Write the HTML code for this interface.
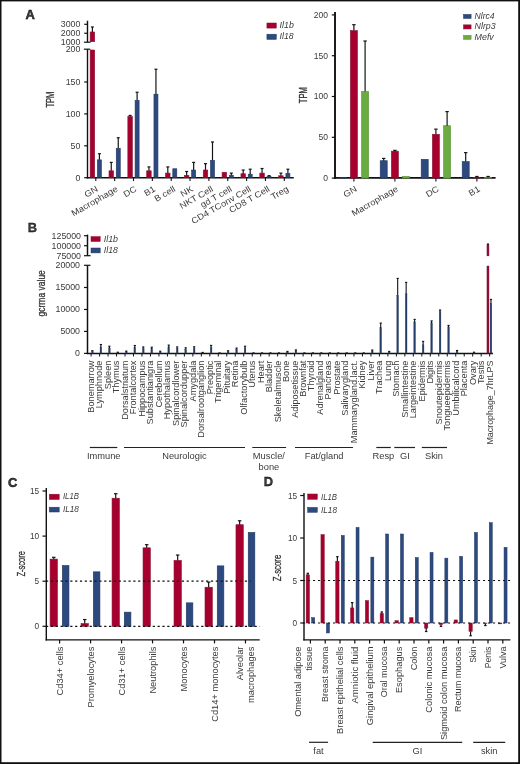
<!DOCTYPE html>
<html><head><meta charset="utf-8"><style>
html,body{margin:0;padding:0;background:#fff;}
svg{display:block;will-change:transform;}
text{font-family:"Liberation Sans",sans-serif;fill:#3a3a3a;}
</style></head><body>
<svg width="520" height="764" viewBox="0 0 520 764">
<rect x="0" y="0" width="520" height="764" fill="#fff"/>
<text x="25.6" y="18.7" font-size="12.9" font-weight="bold" fill="#000" stroke="#000" stroke-width="0.45">A</text>
<text x="27.7" y="232.0" font-size="12.9" font-weight="bold" fill="#000" stroke="#000" stroke-width="0.3">B</text>
<text x="8.0" y="486.5" font-size="12.9" font-weight="bold" fill="#000" stroke="#000" stroke-width="0.45">C</text>
<text x="263.8" y="486.3" font-size="12.9" font-weight="bold" fill="#000" stroke="#000" stroke-width="0.35">D</text>
<line x1="87.50" y1="49.20" x2="87.50" y2="178.40" stroke="#111" stroke-width="1.4" />
<line x1="87.50" y1="20.70" x2="87.50" y2="42.20" stroke="#111" stroke-width="1.4" />
<line x1="83.90" y1="42.20" x2="90.50" y2="42.20" stroke="#111" stroke-width="1.2" />
<line x1="83.90" y1="49.20" x2="90.30" y2="49.20" stroke="#111" stroke-width="1.2" />
<line x1="84.20" y1="177.70" x2="87.50" y2="177.70" stroke="#111" stroke-width="1.2" />
<line x1="84.20" y1="145.80" x2="87.50" y2="145.80" stroke="#111" stroke-width="1.2" />
<line x1="84.20" y1="113.90" x2="87.50" y2="113.90" stroke="#111" stroke-width="1.2" />
<line x1="84.20" y1="82.00" x2="87.50" y2="82.00" stroke="#111" stroke-width="1.2" />
<line x1="84.20" y1="33.25" x2="87.50" y2="33.25" stroke="#111" stroke-width="1.2" />
<line x1="84.20" y1="24.30" x2="87.50" y2="24.30" stroke="#111" stroke-width="1.2" />
<text x="80.40" y="180.57" font-size="8.2" text-anchor="end" textLength="4.90" lengthAdjust="spacingAndGlyphs">0</text>
<text x="80.40" y="148.67" font-size="8.2" text-anchor="end" textLength="9.80" lengthAdjust="spacingAndGlyphs">50</text>
<text x="80.40" y="116.77" font-size="8.2" text-anchor="end" textLength="14.70" lengthAdjust="spacingAndGlyphs">100</text>
<text x="80.40" y="84.87" font-size="8.2" text-anchor="end" textLength="14.70" lengthAdjust="spacingAndGlyphs">150</text>
<text x="80.40" y="52.07" font-size="8.2" text-anchor="end" textLength="14.70" lengthAdjust="spacingAndGlyphs">200</text>
<text x="80.40" y="45.07" font-size="8.2" text-anchor="end" textLength="19.60" lengthAdjust="spacingAndGlyphs">1000</text>
<text x="80.40" y="36.12" font-size="8.2" text-anchor="end" textLength="19.60" lengthAdjust="spacingAndGlyphs">2000</text>
<text x="80.40" y="27.17" font-size="8.2" text-anchor="end" textLength="19.60" lengthAdjust="spacingAndGlyphs">3000</text>
<text transform="translate(54.00,99.65) rotate(-90)" font-size="10.6" stroke="#222" stroke-width="0.3" text-anchor="middle" textLength="15.90" lengthAdjust="spacingAndGlyphs" fill="#222">TPM</text>
<line x1="86.80" y1="177.80" x2="293.80" y2="177.80" stroke="#111" stroke-width="1.6" />
<line x1="95.80" y1="177.70" x2="95.80" y2="181.00" stroke="#111" stroke-width="1.1" />
<rect x="90.15" y="50.00" width="4.50" height="127.70" fill="#a8002e" stroke="#85112f" stroke-width="0.6"/>
<rect x="90.15" y="32.00" width="4.50" height="9.70" fill="#a8002e" stroke="#85112f" stroke-width="0.6"/>
<line x1="92.40" y1="32.00" x2="92.40" y2="26.99" stroke="#151515" stroke-width="1.2" />
<line x1="90.90" y1="26.99" x2="93.90" y2="26.99" stroke="#151515" stroke-width="1.2" />
<rect x="97.40" y="159.84" width="4.00" height="17.86" fill="#2c4a80" stroke="#1f365f" stroke-width="0.6"/>
<line x1="99.40" y1="159.84" x2="99.40" y2="153.71" stroke="#151515" stroke-width="1.2" />
<line x1="97.90" y1="153.71" x2="100.90" y2="153.71" stroke="#151515" stroke-width="1.2" />
<text transform="translate(98.60,190.70) rotate(-30)" font-size="8.7" text-anchor="end" textLength="13.94" lengthAdjust="spacingAndGlyphs" fill="#484848">GN</text>
<line x1="114.65" y1="177.70" x2="114.65" y2="181.00" stroke="#111" stroke-width="1.1" />
<rect x="109.00" y="170.81" width="4.50" height="6.89" fill="#a8002e" stroke="#85112f" stroke-width="0.6"/>
<line x1="111.25" y1="170.81" x2="111.25" y2="162.39" stroke="#151515" stroke-width="1.2" />
<line x1="109.75" y1="162.39" x2="112.75" y2="162.39" stroke="#151515" stroke-width="1.2" />
<rect x="116.25" y="148.35" width="4.00" height="29.35" fill="#2c4a80" stroke="#1f365f" stroke-width="0.6"/>
<line x1="118.25" y1="148.35" x2="118.25" y2="137.76" stroke="#151515" stroke-width="1.2" />
<line x1="116.75" y1="137.76" x2="119.75" y2="137.76" stroke="#151515" stroke-width="1.2" />
<text transform="translate(118.35,190.70) rotate(-30)" font-size="8.7" text-anchor="end" textLength="51.67" lengthAdjust="spacingAndGlyphs" fill="#484848">Macrophage</text>
<line x1="133.50" y1="177.70" x2="133.50" y2="181.00" stroke="#111" stroke-width="1.1" />
<rect x="127.85" y="116.52" width="4.50" height="61.18" fill="#a8002e" stroke="#85112f" stroke-width="0.6"/>
<line x1="130.10" y1="116.52" x2="130.10" y2="115.43" stroke="#151515" stroke-width="1.2" />
<line x1="128.60" y1="115.43" x2="131.60" y2="115.43" stroke="#151515" stroke-width="1.2" />
<rect x="135.10" y="100.37" width="4.00" height="77.33" fill="#2c4a80" stroke="#1f365f" stroke-width="0.6"/>
<line x1="137.10" y1="100.37" x2="137.10" y2="92.27" stroke="#151515" stroke-width="1.2" />
<line x1="135.60" y1="92.27" x2="138.60" y2="92.27" stroke="#151515" stroke-width="1.2" />
<text transform="translate(137.20,190.70) rotate(-30)" font-size="8.7" text-anchor="end" textLength="13.43" lengthAdjust="spacingAndGlyphs" fill="#484848">DC</text>
<line x1="152.35" y1="177.70" x2="152.35" y2="181.00" stroke="#111" stroke-width="1.1" />
<rect x="146.70" y="170.81" width="4.50" height="6.89" fill="#a8002e" stroke="#85112f" stroke-width="0.6"/>
<line x1="148.95" y1="170.81" x2="148.95" y2="166.92" stroke="#151515" stroke-width="1.2" />
<line x1="147.45" y1="166.92" x2="150.45" y2="166.92" stroke="#151515" stroke-width="1.2" />
<rect x="153.95" y="94.19" width="4.00" height="83.51" fill="#2c4a80" stroke="#1f365f" stroke-width="0.6"/>
<line x1="155.95" y1="94.19" x2="155.95" y2="69.24" stroke="#151515" stroke-width="1.2" />
<line x1="154.45" y1="69.24" x2="157.45" y2="69.24" stroke="#151515" stroke-width="1.2" />
<text transform="translate(156.05,190.70) rotate(-30)" font-size="8.7" text-anchor="end" textLength="11.37" lengthAdjust="spacingAndGlyphs" fill="#484848">B1</text>
<line x1="171.20" y1="177.70" x2="171.20" y2="181.00" stroke="#111" stroke-width="1.1" />
<rect x="165.55" y="173.11" width="4.50" height="4.59" fill="#a8002e" stroke="#85112f" stroke-width="0.6"/>
<line x1="167.80" y1="173.11" x2="167.80" y2="166.92" stroke="#151515" stroke-width="1.2" />
<line x1="166.30" y1="166.92" x2="169.30" y2="166.92" stroke="#151515" stroke-width="1.2" />
<rect x="172.80" y="168.77" width="4.00" height="8.93" fill="#2c4a80" stroke="#1f365f" stroke-width="0.6"/>
<text transform="translate(176.10,190.70) rotate(-30)" font-size="8.7" text-anchor="end" textLength="22.73" lengthAdjust="spacingAndGlyphs" fill="#484848">B cell</text>
<line x1="190.05" y1="177.70" x2="190.05" y2="181.00" stroke="#111" stroke-width="1.1" />
<rect x="184.40" y="175.40" width="4.50" height="2.30" fill="#a8002e" stroke="#85112f" stroke-width="0.6"/>
<line x1="186.65" y1="175.40" x2="186.65" y2="171.51" stroke="#151515" stroke-width="1.2" />
<line x1="185.15" y1="171.51" x2="188.15" y2="171.51" stroke="#151515" stroke-width="1.2" />
<rect x="191.65" y="170.04" width="4.00" height="7.66" fill="#2c4a80" stroke="#1f365f" stroke-width="0.6"/>
<line x1="193.65" y1="170.04" x2="193.65" y2="162.39" stroke="#151515" stroke-width="1.2" />
<line x1="192.15" y1="162.39" x2="195.15" y2="162.39" stroke="#151515" stroke-width="1.2" />
<text transform="translate(193.75,190.70) rotate(-30)" font-size="8.7" text-anchor="end" textLength="12.91" lengthAdjust="spacingAndGlyphs" fill="#484848">NK</text>
<line x1="208.90" y1="177.70" x2="208.90" y2="181.00" stroke="#111" stroke-width="1.1" />
<rect x="203.25" y="170.04" width="4.50" height="7.66" fill="#a8002e" stroke="#85112f" stroke-width="0.6"/>
<line x1="205.50" y1="170.04" x2="205.50" y2="163.66" stroke="#151515" stroke-width="1.2" />
<line x1="204.00" y1="163.66" x2="207.00" y2="163.66" stroke="#151515" stroke-width="1.2" />
<rect x="210.50" y="160.41" width="4.00" height="17.29" fill="#2c4a80" stroke="#1f365f" stroke-width="0.6"/>
<line x1="212.50" y1="160.41" x2="212.50" y2="141.97" stroke="#151515" stroke-width="1.2" />
<line x1="211.00" y1="141.97" x2="214.00" y2="141.97" stroke="#151515" stroke-width="1.2" />
<text transform="translate(213.80,190.70) rotate(-30)" font-size="8.7" text-anchor="end" textLength="37.02" lengthAdjust="spacingAndGlyphs" fill="#484848">NKT Cell</text>
<line x1="227.75" y1="177.70" x2="227.75" y2="181.00" stroke="#111" stroke-width="1.1" />
<rect x="222.10" y="172.28" width="4.50" height="5.42" fill="#a8002e" stroke="#85112f" stroke-width="0.6"/>
<rect x="229.35" y="175.21" width="4.00" height="2.49" fill="#2c4a80" stroke="#1f365f" stroke-width="0.6"/>
<line x1="231.35" y1="175.21" x2="231.35" y2="173.11" stroke="#151515" stroke-width="1.2" />
<line x1="229.85" y1="173.11" x2="232.85" y2="173.11" stroke="#151515" stroke-width="1.2" />
<text transform="translate(232.65,190.70) rotate(-30)" font-size="8.7" text-anchor="end" textLength="34.79" lengthAdjust="spacingAndGlyphs" fill="#484848">gd T cell</text>
<line x1="246.60" y1="177.70" x2="246.60" y2="181.00" stroke="#111" stroke-width="1.1" />
<rect x="240.95" y="173.74" width="4.50" height="3.96" fill="#a8002e" stroke="#85112f" stroke-width="0.6"/>
<line x1="243.20" y1="173.74" x2="243.20" y2="170.04" stroke="#151515" stroke-width="1.2" />
<line x1="241.70" y1="170.04" x2="244.70" y2="170.04" stroke="#151515" stroke-width="1.2" />
<rect x="248.20" y="174.19" width="4.00" height="3.51" fill="#2c4a80" stroke="#1f365f" stroke-width="0.6"/>
<line x1="250.20" y1="174.19" x2="250.20" y2="169.21" stroke="#151515" stroke-width="1.2" />
<line x1="248.70" y1="169.21" x2="251.70" y2="169.21" stroke="#151515" stroke-width="1.2" />
<text transform="translate(251.50,190.70) rotate(-30)" font-size="8.7" text-anchor="end" textLength="66.98" lengthAdjust="spacingAndGlyphs" fill="#484848">CD4 TConv Cell</text>
<line x1="265.45" y1="177.70" x2="265.45" y2="181.00" stroke="#111" stroke-width="1.1" />
<rect x="259.80" y="173.11" width="4.50" height="4.59" fill="#a8002e" stroke="#85112f" stroke-width="0.6"/>
<line x1="262.05" y1="173.11" x2="262.05" y2="168.51" stroke="#151515" stroke-width="1.2" />
<line x1="260.55" y1="168.51" x2="263.55" y2="168.51" stroke="#151515" stroke-width="1.2" />
<rect x="267.05" y="176.42" width="4.00" height="1.28" fill="#2c4a80" stroke="#1f365f" stroke-width="0.6"/>
<line x1="269.05" y1="176.42" x2="269.05" y2="175.66" stroke="#151515" stroke-width="1.2" />
<line x1="267.55" y1="175.66" x2="270.55" y2="175.66" stroke="#151515" stroke-width="1.2" />
<text transform="translate(270.35,190.70) rotate(-30)" font-size="8.7" text-anchor="end" textLength="45.12" lengthAdjust="spacingAndGlyphs" fill="#484848">CD8 T Cell</text>
<line x1="284.30" y1="177.70" x2="284.30" y2="181.00" stroke="#111" stroke-width="1.1" />
<rect x="278.65" y="175.79" width="4.50" height="1.91" fill="#a8002e" stroke="#85112f" stroke-width="0.6"/>
<line x1="280.90" y1="175.79" x2="280.90" y2="173.11" stroke="#151515" stroke-width="1.2" />
<line x1="279.40" y1="173.11" x2="282.40" y2="173.11" stroke="#151515" stroke-width="1.2" />
<rect x="285.90" y="173.49" width="4.00" height="4.21" fill="#2c4a80" stroke="#1f365f" stroke-width="0.6"/>
<line x1="287.90" y1="173.49" x2="287.90" y2="169.21" stroke="#151515" stroke-width="1.2" />
<line x1="286.40" y1="169.21" x2="289.40" y2="169.21" stroke="#151515" stroke-width="1.2" />
<text transform="translate(289.20,190.70) rotate(-30)" font-size="8.7" text-anchor="end" textLength="18.77" lengthAdjust="spacingAndGlyphs" fill="#484848">Treg</text>
<rect x="266.9" y="23" width="9.4" height="5.1" fill="#a8002e" stroke="#85112f" stroke-width="0.5"/>
<rect x="266.9" y="34.2" width="9.4" height="5.2" fill="#2c4a80" stroke="#1f365f" stroke-width="0.5"/>
<text x="279.60" y="28.20" font-size="8.6" font-style="italic" textLength="14.20" lengthAdjust="spacingAndGlyphs">Il1b</text>
<text x="279.60" y="39.40" font-size="8.6" font-style="italic" textLength="14.00" lengthAdjust="spacingAndGlyphs">Il18</text>
<line x1="335.00" y1="12.00" x2="335.00" y2="178.70" stroke="#111" stroke-width="1.9" />
<line x1="331.80" y1="178.10" x2="335.00" y2="178.10" stroke="#111" stroke-width="1.2" />
<text x="328.00" y="180.97" font-size="8.2" text-anchor="end" textLength="4.75" lengthAdjust="spacingAndGlyphs">0</text>
<line x1="331.80" y1="137.30" x2="335.00" y2="137.30" stroke="#111" stroke-width="1.2" />
<text x="328.00" y="140.17" font-size="8.2" text-anchor="end" textLength="9.50" lengthAdjust="spacingAndGlyphs">50</text>
<line x1="331.80" y1="96.50" x2="335.00" y2="96.50" stroke="#111" stroke-width="1.2" />
<text x="328.00" y="99.37" font-size="8.2" text-anchor="end" textLength="14.25" lengthAdjust="spacingAndGlyphs">100</text>
<line x1="331.80" y1="55.70" x2="335.00" y2="55.70" stroke="#111" stroke-width="1.2" />
<text x="328.00" y="58.57" font-size="8.2" text-anchor="end" textLength="14.25" lengthAdjust="spacingAndGlyphs">150</text>
<line x1="331.80" y1="14.90" x2="335.00" y2="14.90" stroke="#111" stroke-width="1.2" />
<text x="328.00" y="17.77" font-size="8.2" text-anchor="end" textLength="14.25" lengthAdjust="spacingAndGlyphs">200</text>
<text transform="translate(306.60,95.20) rotate(-90)" font-size="10.6" stroke="#222" stroke-width="0.3" text-anchor="middle" textLength="15.90" lengthAdjust="spacingAndGlyphs" fill="#222">TPM</text>
<line x1="334.10" y1="177.80" x2="495.60" y2="177.80" stroke="#111" stroke-width="1.8" />
<line x1="353.90" y1="178.10" x2="353.90" y2="181.40" stroke="#111" stroke-width="1.1" />
<rect x="339.20" y="177.61" width="7.00" height="0.49" fill="#2c4a80" stroke="#1f365f" stroke-width="0.6"/>
<rect x="350.40" y="30.57" width="7.00" height="147.53" fill="#a8002e" stroke="#85112f" stroke-width="0.6"/>
<line x1="353.90" y1="30.57" x2="353.90" y2="24.69" stroke="#151515" stroke-width="1.2" />
<line x1="352.20" y1="24.69" x2="355.60" y2="24.69" stroke="#151515" stroke-width="1.2" />
<rect x="361.60" y="91.60" width="7.00" height="86.50" fill="#6aab42" stroke="#559035" stroke-width="0.6"/>
<line x1="365.10" y1="91.60" x2="365.10" y2="41.01" stroke="#151515" stroke-width="1.2" />
<line x1="363.40" y1="41.01" x2="366.80" y2="41.01" stroke="#151515" stroke-width="1.2" />
<text transform="translate(357.60,190.70) rotate(-30)" font-size="8.7" text-anchor="end" textLength="13.94" lengthAdjust="spacingAndGlyphs" fill="#484848">GN</text>
<line x1="394.90" y1="178.10" x2="394.90" y2="181.40" stroke="#111" stroke-width="1.1" />
<rect x="380.20" y="160.72" width="7.00" height="17.38" fill="#2c4a80" stroke="#1f365f" stroke-width="0.6"/>
<line x1="383.70" y1="160.72" x2="383.70" y2="158.43" stroke="#151515" stroke-width="1.2" />
<line x1="382.00" y1="158.43" x2="385.40" y2="158.43" stroke="#151515" stroke-width="1.2" />
<rect x="391.40" y="151.17" width="7.00" height="26.93" fill="#a8002e" stroke="#85112f" stroke-width="0.6"/>
<line x1="394.90" y1="151.17" x2="394.90" y2="150.36" stroke="#151515" stroke-width="1.2" />
<line x1="393.20" y1="150.36" x2="396.60" y2="150.36" stroke="#151515" stroke-width="1.2" />
<rect x="402.60" y="176.39" width="7.00" height="1.71" fill="#6aab42" stroke="#559035" stroke-width="0.6"/>
<text transform="translate(398.60,190.70) rotate(-30)" font-size="8.7" text-anchor="end" textLength="51.67" lengthAdjust="spacingAndGlyphs" fill="#484848">Macrophage</text>
<line x1="435.90" y1="178.10" x2="435.90" y2="181.40" stroke="#111" stroke-width="1.1" />
<rect x="421.20" y="159.33" width="7.00" height="18.77" fill="#2c4a80" stroke="#1f365f" stroke-width="0.6"/>
<rect x="432.40" y="134.28" width="7.00" height="43.82" fill="#a8002e" stroke="#85112f" stroke-width="0.6"/>
<line x1="435.90" y1="134.28" x2="435.90" y2="129.14" stroke="#151515" stroke-width="1.2" />
<line x1="434.20" y1="129.14" x2="437.60" y2="129.14" stroke="#151515" stroke-width="1.2" />
<rect x="443.60" y="125.71" width="7.00" height="52.39" fill="#6aab42" stroke="#559035" stroke-width="0.6"/>
<line x1="447.10" y1="125.71" x2="447.10" y2="111.60" stroke="#151515" stroke-width="1.2" />
<line x1="445.40" y1="111.60" x2="448.80" y2="111.60" stroke="#151515" stroke-width="1.2" />
<text transform="translate(439.60,190.70) rotate(-30)" font-size="8.7" text-anchor="end" textLength="13.43" lengthAdjust="spacingAndGlyphs" fill="#484848">DC</text>
<line x1="476.90" y1="178.10" x2="476.90" y2="181.40" stroke="#111" stroke-width="1.1" />
<rect x="462.20" y="161.62" width="7.00" height="16.48" fill="#2c4a80" stroke="#1f365f" stroke-width="0.6"/>
<line x1="465.70" y1="161.62" x2="465.70" y2="152.64" stroke="#151515" stroke-width="1.2" />
<line x1="464.00" y1="152.64" x2="467.40" y2="152.64" stroke="#151515" stroke-width="1.2" />
<rect x="473.40" y="177.28" width="7.00" height="0.82" fill="#a8002e" stroke="#85112f" stroke-width="0.6"/>
<line x1="476.90" y1="177.28" x2="476.90" y2="176.47" stroke="#151515" stroke-width="1.2" />
<line x1="475.20" y1="176.47" x2="478.60" y2="176.47" stroke="#151515" stroke-width="1.2" />
<rect x="484.60" y="177.28" width="7.00" height="0.82" fill="#6aab42" stroke="#559035" stroke-width="0.6"/>
<line x1="488.10" y1="177.28" x2="488.10" y2="176.47" stroke="#151515" stroke-width="1.2" />
<line x1="486.40" y1="176.47" x2="489.80" y2="176.47" stroke="#151515" stroke-width="1.2" />
<text transform="translate(480.60,190.70) rotate(-30)" font-size="8.7" text-anchor="end" textLength="11.37" lengthAdjust="spacingAndGlyphs" fill="#484848">B1</text>
<rect x="463.5" y="14.40" width="7.6" height="4.1" fill="#2c4a80" stroke="#1f365f" stroke-width="0.5"/>
<text x="474.60" y="18.90" font-size="8.6" font-style="italic" textLength="20.00" lengthAdjust="spacingAndGlyphs">Nlrc4</text>
<rect x="463.5" y="24.85" width="7.6" height="4.1" fill="#a8002e" stroke="#85112f" stroke-width="0.5"/>
<text x="474.60" y="29.35" font-size="8.6" font-style="italic" textLength="21.00" lengthAdjust="spacingAndGlyphs">Nlrp3</text>
<rect x="463.5" y="35.30" width="7.6" height="4.1" fill="#6aab42" stroke="#559035" stroke-width="0.5"/>
<text x="474.60" y="39.80" font-size="8.6" font-style="italic" textLength="19.20" lengthAdjust="spacingAndGlyphs">Mefv</text>
<line x1="87.50" y1="265.30" x2="87.50" y2="354.10" stroke="#111" stroke-width="1.5" />
<line x1="87.50" y1="234.60" x2="87.50" y2="255.70" stroke="#111" stroke-width="1.5" />
<line x1="84.00" y1="255.70" x2="90.60" y2="255.70" stroke="#111" stroke-width="1.2" />
<line x1="84.00" y1="265.30" x2="90.40" y2="265.30" stroke="#111" stroke-width="1.2" />
<line x1="84.00" y1="353.40" x2="87.50" y2="353.40" stroke="#111" stroke-width="1.2" />
<line x1="84.00" y1="331.43" x2="87.50" y2="331.43" stroke="#111" stroke-width="1.2" />
<line x1="84.00" y1="309.46" x2="87.50" y2="309.46" stroke="#111" stroke-width="1.2" />
<line x1="84.00" y1="287.49" x2="87.50" y2="287.49" stroke="#111" stroke-width="1.2" />
<line x1="84.00" y1="245.70" x2="87.50" y2="245.70" stroke="#111" stroke-width="1.2" />
<line x1="84.00" y1="235.70" x2="87.50" y2="235.70" stroke="#111" stroke-width="1.2" />
<text x="80.00" y="356.27" font-size="8.2" text-anchor="end" textLength="4.90" lengthAdjust="spacingAndGlyphs">0</text>
<text x="80.00" y="334.30" font-size="8.2" text-anchor="end" textLength="19.60" lengthAdjust="spacingAndGlyphs">5000</text>
<text x="80.00" y="312.33" font-size="8.2" text-anchor="end" textLength="24.50" lengthAdjust="spacingAndGlyphs">10000</text>
<text x="80.00" y="290.36" font-size="8.2" text-anchor="end" textLength="24.50" lengthAdjust="spacingAndGlyphs">15000</text>
<text x="80.00" y="268.17" font-size="8.2" text-anchor="end" textLength="24.50" lengthAdjust="spacingAndGlyphs">20000</text>
<text x="81.00" y="258.97" font-size="8.2" text-anchor="end" textLength="24.50" lengthAdjust="spacingAndGlyphs">75000</text>
<text x="81.00" y="248.97" font-size="8.2" text-anchor="end" textLength="29.40" lengthAdjust="spacingAndGlyphs">100000</text>
<text x="81.00" y="238.97" font-size="8.2" text-anchor="end" textLength="29.40" lengthAdjust="spacingAndGlyphs">125000</text>
<text transform="translate(44.50,293.30) rotate(-90)" font-size="10.4" stroke="#2a2a2a" stroke-width="0.25" text-anchor="middle" textLength="46.30" lengthAdjust="spacingAndGlyphs" fill="#2a2a2a">gcrma value</text>
<line x1="86.80" y1="353.40" x2="493.00" y2="353.40" stroke="#111" stroke-width="1.5" />
<line x1="91.10" y1="353.40" x2="91.10" y2="356.50" stroke="#111" stroke-width="1.0" />
<rect x="91.55" y="351.60" width="1.70" height="1.80" fill="#263d6b" stroke="#1a2c50" stroke-width="0.3"/>
<line x1="92.40" y1="351.60" x2="92.40" y2="350.70" stroke="#111" stroke-width="1.1" />
<line x1="91.30" y1="350.70" x2="93.50" y2="350.70" stroke="#111" stroke-width="1.1" />
<text transform="translate(94.00,360.60) rotate(-90)" font-size="8.6" text-anchor="end" textLength="52.06" lengthAdjust="spacingAndGlyphs" fill="#484848">Bonemarrow</text>
<line x1="99.58" y1="353.40" x2="99.58" y2="356.50" stroke="#111" stroke-width="1.0" />
<rect x="100.03" y="346.90" width="1.70" height="6.50" fill="#263d6b" stroke="#1a2c50" stroke-width="0.3"/>
<line x1="100.88" y1="346.90" x2="100.88" y2="344.50" stroke="#111" stroke-width="1.1" />
<line x1="99.78" y1="344.50" x2="101.98" y2="344.50" stroke="#111" stroke-width="1.1" />
<text transform="translate(102.48,360.60) rotate(-90)" font-size="8.6" text-anchor="end" textLength="47.65" lengthAdjust="spacingAndGlyphs" fill="#484848">Lymphnode</text>
<line x1="108.06" y1="353.40" x2="108.06" y2="356.50" stroke="#111" stroke-width="1.0" />
<rect x="108.51" y="347.90" width="1.70" height="5.50" fill="#263d6b" stroke="#1a2c50" stroke-width="0.3"/>
<line x1="109.36" y1="347.90" x2="109.36" y2="346.20" stroke="#111" stroke-width="1.1" />
<line x1="108.26" y1="346.20" x2="110.46" y2="346.20" stroke="#111" stroke-width="1.1" />
<text transform="translate(110.96,360.60) rotate(-90)" font-size="8.6" text-anchor="end" textLength="28.60" lengthAdjust="spacingAndGlyphs" fill="#484848">Spleen</text>
<line x1="116.54" y1="353.40" x2="116.54" y2="356.50" stroke="#111" stroke-width="1.0" />
<rect x="116.99" y="352.80" width="1.70" height="0.60" fill="#263d6b" stroke="#1a2c50" stroke-width="0.3"/>
<line x1="117.84" y1="352.80" x2="117.84" y2="352.20" stroke="#111" stroke-width="1.1" />
<line x1="116.74" y1="352.20" x2="118.94" y2="352.20" stroke="#111" stroke-width="1.1" />
<text transform="translate(119.44,360.60) rotate(-90)" font-size="8.6" text-anchor="end" textLength="32.66" lengthAdjust="spacingAndGlyphs" fill="#484848">Thymus</text>
<line x1="125.02" y1="353.40" x2="125.02" y2="356.50" stroke="#111" stroke-width="1.0" />
<rect x="125.47" y="351.90" width="1.70" height="1.50" fill="#263d6b" stroke="#1a2c50" stroke-width="0.3"/>
<line x1="126.32" y1="351.90" x2="126.32" y2="351.10" stroke="#111" stroke-width="1.1" />
<line x1="125.22" y1="351.10" x2="127.42" y2="351.10" stroke="#111" stroke-width="1.1" />
<text transform="translate(127.92,360.60) rotate(-90)" font-size="8.6" text-anchor="end" textLength="59.20" lengthAdjust="spacingAndGlyphs" fill="#484848">Dorsalstriatum</text>
<line x1="133.50" y1="353.40" x2="133.50" y2="356.50" stroke="#111" stroke-width="1.0" />
<rect x="133.95" y="347.40" width="1.70" height="6.00" fill="#263d6b" stroke="#1a2c50" stroke-width="0.3"/>
<line x1="134.80" y1="347.40" x2="134.80" y2="345.50" stroke="#111" stroke-width="1.1" />
<line x1="133.70" y1="345.50" x2="135.90" y2="345.50" stroke="#111" stroke-width="1.1" />
<text transform="translate(136.40,360.60) rotate(-90)" font-size="8.6" text-anchor="end" textLength="53.59" lengthAdjust="spacingAndGlyphs" fill="#484848">Frontalcortex</text>
<line x1="141.98" y1="353.40" x2="141.98" y2="356.50" stroke="#111" stroke-width="1.0" />
<rect x="142.43" y="348.40" width="1.70" height="5.00" fill="#263d6b" stroke="#1a2c50" stroke-width="0.3"/>
<line x1="143.28" y1="348.40" x2="143.28" y2="346.90" stroke="#111" stroke-width="1.1" />
<line x1="142.18" y1="346.90" x2="144.38" y2="346.90" stroke="#111" stroke-width="1.1" />
<text transform="translate(144.88,360.60) rotate(-90)" font-size="8.6" text-anchor="end" textLength="56.15" lengthAdjust="spacingAndGlyphs" fill="#484848">Hippocampus</text>
<line x1="150.46" y1="353.40" x2="150.46" y2="356.50" stroke="#111" stroke-width="1.0" />
<rect x="150.91" y="348.60" width="1.70" height="4.80" fill="#263d6b" stroke="#1a2c50" stroke-width="0.3"/>
<line x1="151.76" y1="348.60" x2="151.76" y2="347.20" stroke="#111" stroke-width="1.1" />
<line x1="150.66" y1="347.20" x2="152.86" y2="347.20" stroke="#111" stroke-width="1.1" />
<text transform="translate(153.36,360.60) rotate(-90)" font-size="8.6" text-anchor="end" textLength="63.82" lengthAdjust="spacingAndGlyphs" fill="#484848">Substantianigra</text>
<line x1="158.94" y1="353.40" x2="158.94" y2="356.50" stroke="#111" stroke-width="1.0" />
<rect x="159.39" y="352.00" width="1.70" height="1.40" fill="#263d6b" stroke="#1a2c50" stroke-width="0.3"/>
<line x1="160.24" y1="352.00" x2="160.24" y2="351.20" stroke="#111" stroke-width="1.1" />
<line x1="159.14" y1="351.20" x2="161.34" y2="351.20" stroke="#111" stroke-width="1.1" />
<text transform="translate(161.84,360.60) rotate(-90)" font-size="8.6" text-anchor="end" textLength="46.96" lengthAdjust="spacingAndGlyphs" fill="#484848">Cerebellum</text>
<line x1="167.42" y1="353.40" x2="167.42" y2="356.50" stroke="#111" stroke-width="1.0" />
<rect x="167.87" y="346.90" width="1.70" height="6.50" fill="#263d6b" stroke="#1a2c50" stroke-width="0.3"/>
<line x1="168.72" y1="346.90" x2="168.72" y2="345.10" stroke="#111" stroke-width="1.1" />
<line x1="167.62" y1="345.10" x2="169.82" y2="345.10" stroke="#111" stroke-width="1.1" />
<text transform="translate(170.32,360.60) rotate(-90)" font-size="8.6" text-anchor="end" textLength="58.70" lengthAdjust="spacingAndGlyphs" fill="#484848">Hypothalamus</text>
<line x1="175.90" y1="353.40" x2="175.90" y2="356.50" stroke="#111" stroke-width="1.0" />
<rect x="176.35" y="348.40" width="1.70" height="5.00" fill="#263d6b" stroke="#1a2c50" stroke-width="0.3"/>
<line x1="177.20" y1="348.40" x2="177.20" y2="346.90" stroke="#111" stroke-width="1.1" />
<line x1="176.10" y1="346.90" x2="178.30" y2="346.90" stroke="#111" stroke-width="1.1" />
<text transform="translate(178.80,360.60) rotate(-90)" font-size="8.6" text-anchor="end" textLength="65.34" lengthAdjust="spacingAndGlyphs" fill="#484848">Spinalcordlower</text>
<line x1="184.38" y1="353.40" x2="184.38" y2="356.50" stroke="#111" stroke-width="1.0" />
<rect x="184.83" y="349.40" width="1.70" height="4.00" fill="#263d6b" stroke="#1a2c50" stroke-width="0.3"/>
<line x1="185.68" y1="349.40" x2="185.68" y2="347.80" stroke="#111" stroke-width="1.1" />
<line x1="184.58" y1="347.80" x2="186.78" y2="347.80" stroke="#111" stroke-width="1.1" />
<text transform="translate(187.28,360.60) rotate(-90)" font-size="8.6" text-anchor="end" textLength="66.88" lengthAdjust="spacingAndGlyphs" fill="#484848">Spinalcordupper</text>
<line x1="192.86" y1="353.40" x2="192.86" y2="356.50" stroke="#111" stroke-width="1.0" />
<rect x="193.31" y="348.40" width="1.70" height="5.00" fill="#263d6b" stroke="#1a2c50" stroke-width="0.3"/>
<line x1="194.16" y1="348.40" x2="194.16" y2="346.80" stroke="#111" stroke-width="1.1" />
<line x1="193.06" y1="346.80" x2="195.26" y2="346.80" stroke="#111" stroke-width="1.1" />
<text transform="translate(195.76,360.60) rotate(-90)" font-size="8.6" text-anchor="end" textLength="40.84" lengthAdjust="spacingAndGlyphs" fill="#484848">Amygdala</text>
<line x1="201.34" y1="353.40" x2="201.34" y2="356.50" stroke="#111" stroke-width="1.0" />
<rect x="201.79" y="352.90" width="1.70" height="0.50" fill="#263d6b" stroke="#1a2c50" stroke-width="0.3"/>
<line x1="202.64" y1="352.90" x2="202.64" y2="352.40" stroke="#111" stroke-width="1.1" />
<line x1="201.54" y1="352.40" x2="203.74" y2="352.40" stroke="#111" stroke-width="1.1" />
<text transform="translate(204.24,360.60) rotate(-90)" font-size="8.6" text-anchor="end" textLength="77.09" lengthAdjust="spacingAndGlyphs" fill="#484848">Dorsalrootganglion</text>
<line x1="209.82" y1="353.40" x2="209.82" y2="356.50" stroke="#111" stroke-width="1.0" />
<rect x="210.27" y="347.10" width="1.70" height="6.30" fill="#263d6b" stroke="#1a2c50" stroke-width="0.3"/>
<line x1="211.12" y1="347.10" x2="211.12" y2="345.40" stroke="#111" stroke-width="1.1" />
<line x1="210.02" y1="345.40" x2="212.22" y2="345.40" stroke="#111" stroke-width="1.1" />
<text transform="translate(212.72,360.60) rotate(-90)" font-size="8.6" text-anchor="end" textLength="33.69" lengthAdjust="spacingAndGlyphs" fill="#484848">Preoptic</text>
<line x1="218.30" y1="353.40" x2="218.30" y2="356.50" stroke="#111" stroke-width="1.0" />
<rect x="218.75" y="353.10" width="1.70" height="0.30" fill="#263d6b" stroke="#1a2c50" stroke-width="0.3"/>
<line x1="219.60" y1="353.10" x2="219.60" y2="352.90" stroke="#111" stroke-width="1.1" />
<line x1="218.50" y1="352.90" x2="220.70" y2="352.90" stroke="#111" stroke-width="1.1" />
<text transform="translate(221.20,360.60) rotate(-90)" font-size="8.6" text-anchor="end" textLength="42.53" lengthAdjust="spacingAndGlyphs" fill="#484848">Trigeminal</text>
<line x1="226.78" y1="353.40" x2="226.78" y2="356.50" stroke="#111" stroke-width="1.0" />
<rect x="227.23" y="351.60" width="1.70" height="1.80" fill="#263d6b" stroke="#1a2c50" stroke-width="0.3"/>
<line x1="228.08" y1="351.60" x2="228.08" y2="350.80" stroke="#111" stroke-width="1.1" />
<line x1="226.98" y1="350.80" x2="229.18" y2="350.80" stroke="#111" stroke-width="1.1" />
<text transform="translate(229.68,360.60) rotate(-90)" font-size="8.6" text-anchor="end" textLength="33.17" lengthAdjust="spacingAndGlyphs" fill="#484848">Pituitary</text>
<line x1="235.26" y1="353.40" x2="235.26" y2="356.50" stroke="#111" stroke-width="1.0" />
<rect x="235.71" y="349.40" width="1.70" height="4.00" fill="#263d6b" stroke="#1a2c50" stroke-width="0.3"/>
<line x1="236.56" y1="349.40" x2="236.56" y2="348.10" stroke="#111" stroke-width="1.1" />
<line x1="235.46" y1="348.10" x2="237.66" y2="348.10" stroke="#111" stroke-width="1.1" />
<text transform="translate(238.16,360.60) rotate(-90)" font-size="8.6" text-anchor="end" textLength="26.55" lengthAdjust="spacingAndGlyphs" fill="#484848">Retina</text>
<line x1="243.74" y1="353.40" x2="243.74" y2="356.50" stroke="#111" stroke-width="1.0" />
<rect x="244.19" y="347.90" width="1.70" height="5.50" fill="#263d6b" stroke="#1a2c50" stroke-width="0.3"/>
<line x1="245.04" y1="347.90" x2="245.04" y2="346.20" stroke="#111" stroke-width="1.1" />
<line x1="243.94" y1="346.20" x2="246.14" y2="346.20" stroke="#111" stroke-width="1.1" />
<text transform="translate(246.64,360.60) rotate(-90)" font-size="8.6" text-anchor="end" textLength="54.11" lengthAdjust="spacingAndGlyphs" fill="#484848">Olfactorybulb</text>
<line x1="252.22" y1="353.40" x2="252.22" y2="356.50" stroke="#111" stroke-width="1.0" />
<rect x="252.67" y="353.10" width="1.70" height="0.30" fill="#263d6b" stroke="#1a2c50" stroke-width="0.3"/>
<line x1="253.52" y1="353.10" x2="253.52" y2="352.90" stroke="#111" stroke-width="1.1" />
<line x1="252.42" y1="352.90" x2="254.62" y2="352.90" stroke="#111" stroke-width="1.1" />
<text transform="translate(255.12,360.60) rotate(-90)" font-size="8.6" text-anchor="end" textLength="27.05" lengthAdjust="spacingAndGlyphs" fill="#484848">Uterus</text>
<line x1="260.70" y1="353.40" x2="260.70" y2="356.50" stroke="#111" stroke-width="1.0" />
<rect x="261.15" y="353.10" width="1.70" height="0.30" fill="#263d6b" stroke="#1a2c50" stroke-width="0.3"/>
<line x1="262.00" y1="353.10" x2="262.00" y2="352.90" stroke="#111" stroke-width="1.1" />
<line x1="260.90" y1="352.90" x2="263.10" y2="352.90" stroke="#111" stroke-width="1.1" />
<text transform="translate(263.60,360.60) rotate(-90)" font-size="8.6" text-anchor="end" textLength="22.46" lengthAdjust="spacingAndGlyphs" fill="#484848">Heart</text>
<line x1="269.18" y1="353.40" x2="269.18" y2="356.50" stroke="#111" stroke-width="1.0" />
<rect x="269.63" y="353.10" width="1.70" height="0.30" fill="#263d6b" stroke="#1a2c50" stroke-width="0.3"/>
<line x1="270.48" y1="353.10" x2="270.48" y2="352.90" stroke="#111" stroke-width="1.1" />
<line x1="269.38" y1="352.90" x2="271.58" y2="352.90" stroke="#111" stroke-width="1.1" />
<text transform="translate(272.08,360.60) rotate(-90)" font-size="8.6" text-anchor="end" textLength="31.65" lengthAdjust="spacingAndGlyphs" fill="#484848">Bladder</text>
<line x1="277.66" y1="353.40" x2="277.66" y2="356.50" stroke="#111" stroke-width="1.0" />
<rect x="278.11" y="353.10" width="1.70" height="0.30" fill="#263d6b" stroke="#1a2c50" stroke-width="0.3"/>
<line x1="278.96" y1="353.10" x2="278.96" y2="352.90" stroke="#111" stroke-width="1.1" />
<line x1="277.86" y1="352.90" x2="280.06" y2="352.90" stroke="#111" stroke-width="1.1" />
<text transform="translate(280.56,360.60) rotate(-90)" font-size="8.6" text-anchor="end" textLength="61.76" lengthAdjust="spacingAndGlyphs" fill="#484848">Skeletalmuscle</text>
<line x1="286.14" y1="353.40" x2="286.14" y2="356.50" stroke="#111" stroke-width="1.0" />
<rect x="286.59" y="352.20" width="1.70" height="1.20" fill="#263d6b" stroke="#1a2c50" stroke-width="0.3"/>
<line x1="287.44" y1="352.20" x2="287.44" y2="351.40" stroke="#111" stroke-width="1.1" />
<line x1="286.34" y1="351.40" x2="288.54" y2="351.40" stroke="#111" stroke-width="1.1" />
<text transform="translate(289.04,360.60) rotate(-90)" font-size="8.6" text-anchor="end" textLength="21.45" lengthAdjust="spacingAndGlyphs" fill="#484848">Bone</text>
<line x1="294.62" y1="353.40" x2="294.62" y2="356.50" stroke="#111" stroke-width="1.0" />
<rect x="295.07" y="350.90" width="1.70" height="2.50" fill="#263d6b" stroke="#1a2c50" stroke-width="0.3"/>
<line x1="295.92" y1="350.90" x2="295.92" y2="349.90" stroke="#111" stroke-width="1.1" />
<line x1="294.82" y1="349.90" x2="297.02" y2="349.90" stroke="#111" stroke-width="1.1" />
<text transform="translate(297.52,360.60) rotate(-90)" font-size="8.6" text-anchor="end" textLength="57.18" lengthAdjust="spacingAndGlyphs" fill="#484848">Adiposetissue</text>
<line x1="303.10" y1="353.40" x2="303.10" y2="356.50" stroke="#111" stroke-width="1.0" />
<rect x="303.55" y="353.10" width="1.70" height="0.30" fill="#263d6b" stroke="#1a2c50" stroke-width="0.3"/>
<line x1="304.40" y1="353.10" x2="304.40" y2="352.90" stroke="#111" stroke-width="1.1" />
<line x1="303.30" y1="352.90" x2="305.50" y2="352.90" stroke="#111" stroke-width="1.1" />
<text transform="translate(306.00,360.60) rotate(-90)" font-size="8.6" text-anchor="end" textLength="36.24" lengthAdjust="spacingAndGlyphs" fill="#484848">Brownfat</text>
<line x1="311.58" y1="353.40" x2="311.58" y2="356.50" stroke="#111" stroke-width="1.0" />
<rect x="312.03" y="353.10" width="1.70" height="0.30" fill="#263d6b" stroke="#1a2c50" stroke-width="0.3"/>
<line x1="312.88" y1="353.10" x2="312.88" y2="352.90" stroke="#111" stroke-width="1.1" />
<line x1="311.78" y1="352.90" x2="313.98" y2="352.90" stroke="#111" stroke-width="1.1" />
<text transform="translate(314.48,360.60) rotate(-90)" font-size="8.6" text-anchor="end" textLength="30.62" lengthAdjust="spacingAndGlyphs" fill="#484848">Thyroid</text>
<line x1="320.06" y1="353.40" x2="320.06" y2="356.50" stroke="#111" stroke-width="1.0" />
<rect x="320.51" y="353.10" width="1.70" height="0.30" fill="#263d6b" stroke="#1a2c50" stroke-width="0.3"/>
<line x1="321.36" y1="353.10" x2="321.36" y2="352.90" stroke="#111" stroke-width="1.1" />
<line x1="320.26" y1="352.90" x2="322.46" y2="352.90" stroke="#111" stroke-width="1.1" />
<text transform="translate(322.96,360.60) rotate(-90)" font-size="8.6" text-anchor="end" textLength="54.12" lengthAdjust="spacingAndGlyphs" fill="#484848">Adrenalgland</text>
<line x1="328.54" y1="353.40" x2="328.54" y2="356.50" stroke="#111" stroke-width="1.0" />
<rect x="328.99" y="353.10" width="1.70" height="0.30" fill="#263d6b" stroke="#1a2c50" stroke-width="0.3"/>
<line x1="329.84" y1="353.10" x2="329.84" y2="352.90" stroke="#111" stroke-width="1.1" />
<line x1="328.74" y1="352.90" x2="330.94" y2="352.90" stroke="#111" stroke-width="1.1" />
<text transform="translate(331.44,360.60) rotate(-90)" font-size="8.6" text-anchor="end" textLength="38.80" lengthAdjust="spacingAndGlyphs" fill="#484848">Pancreas</text>
<line x1="337.02" y1="353.40" x2="337.02" y2="356.50" stroke="#111" stroke-width="1.0" />
<rect x="337.47" y="353.10" width="1.70" height="0.30" fill="#263d6b" stroke="#1a2c50" stroke-width="0.3"/>
<line x1="338.32" y1="353.10" x2="338.32" y2="352.90" stroke="#111" stroke-width="1.1" />
<line x1="337.22" y1="352.90" x2="339.42" y2="352.90" stroke="#111" stroke-width="1.1" />
<text transform="translate(339.92,360.60) rotate(-90)" font-size="8.6" text-anchor="end" textLength="34.20" lengthAdjust="spacingAndGlyphs" fill="#484848">Prostate</text>
<line x1="345.50" y1="353.40" x2="345.50" y2="356.50" stroke="#111" stroke-width="1.0" />
<rect x="345.95" y="353.10" width="1.70" height="0.30" fill="#263d6b" stroke="#1a2c50" stroke-width="0.3"/>
<line x1="346.80" y1="353.10" x2="346.80" y2="352.90" stroke="#111" stroke-width="1.1" />
<line x1="345.70" y1="352.90" x2="347.90" y2="352.90" stroke="#111" stroke-width="1.1" />
<text transform="translate(348.40,360.60) rotate(-90)" font-size="8.6" text-anchor="end" textLength="55.13" lengthAdjust="spacingAndGlyphs" fill="#484848">Salivarygland</text>
<line x1="353.98" y1="353.40" x2="353.98" y2="356.50" stroke="#111" stroke-width="1.0" />
<rect x="354.43" y="353.10" width="1.70" height="0.30" fill="#263d6b" stroke="#1a2c50" stroke-width="0.3"/>
<line x1="355.28" y1="353.10" x2="355.28" y2="352.90" stroke="#111" stroke-width="1.1" />
<line x1="354.18" y1="352.90" x2="356.38" y2="352.90" stroke="#111" stroke-width="1.1" />
<text transform="translate(356.88,360.60) rotate(-90)" font-size="8.6" text-anchor="end" textLength="82.68" lengthAdjust="spacingAndGlyphs" fill="#484848">Mammarygland.lact.</text>
<line x1="362.46" y1="353.40" x2="362.46" y2="356.50" stroke="#111" stroke-width="1.0" />
<rect x="362.91" y="353.10" width="1.70" height="0.30" fill="#263d6b" stroke="#1a2c50" stroke-width="0.3"/>
<line x1="363.76" y1="353.10" x2="363.76" y2="352.90" stroke="#111" stroke-width="1.1" />
<line x1="362.66" y1="352.90" x2="364.86" y2="352.90" stroke="#111" stroke-width="1.1" />
<text transform="translate(365.36,360.60) rotate(-90)" font-size="8.6" text-anchor="end" textLength="28.08" lengthAdjust="spacingAndGlyphs" fill="#484848">Kidney</text>
<line x1="370.94" y1="353.40" x2="370.94" y2="356.50" stroke="#111" stroke-width="1.0" />
<rect x="371.39" y="351.00" width="1.70" height="2.40" fill="#263d6b" stroke="#1a2c50" stroke-width="0.3"/>
<line x1="372.24" y1="351.00" x2="372.24" y2="350.00" stroke="#111" stroke-width="1.1" />
<line x1="371.14" y1="350.00" x2="373.34" y2="350.00" stroke="#111" stroke-width="1.1" />
<text transform="translate(373.84,360.60) rotate(-90)" font-size="8.6" text-anchor="end" textLength="19.90" lengthAdjust="spacingAndGlyphs" fill="#484848">Liver</text>
<line x1="379.42" y1="353.40" x2="379.42" y2="356.50" stroke="#111" stroke-width="1.0" />
<rect x="379.87" y="327.70" width="1.70" height="25.70" fill="#263d6b" stroke="#1a2c50" stroke-width="0.3"/>
<line x1="380.72" y1="327.70" x2="380.72" y2="323.10" stroke="#111" stroke-width="1.1" />
<line x1="379.62" y1="323.10" x2="381.82" y2="323.10" stroke="#111" stroke-width="1.1" />
<text transform="translate(382.32,360.60) rotate(-90)" font-size="8.6" text-anchor="end" textLength="33.35" lengthAdjust="spacingAndGlyphs" fill="#484848">Trachea</text>
<line x1="387.90" y1="353.40" x2="387.90" y2="356.50" stroke="#111" stroke-width="1.0" />
<rect x="388.35" y="352.20" width="1.70" height="1.20" fill="#263d6b" stroke="#1a2c50" stroke-width="0.3"/>
<line x1="389.20" y1="352.20" x2="389.20" y2="351.40" stroke="#111" stroke-width="1.1" />
<line x1="388.10" y1="351.40" x2="390.30" y2="351.40" stroke="#111" stroke-width="1.1" />
<text transform="translate(390.80,360.60) rotate(-90)" font-size="8.6" text-anchor="end" textLength="20.43" lengthAdjust="spacingAndGlyphs" fill="#484848">Lung</text>
<line x1="396.38" y1="353.40" x2="396.38" y2="356.50" stroke="#111" stroke-width="1.0" />
<rect x="396.83" y="295.40" width="1.70" height="58.00" fill="#263d6b" stroke="#1a2c50" stroke-width="0.3"/>
<line x1="397.68" y1="295.40" x2="397.68" y2="278.40" stroke="#111" stroke-width="1.1" />
<line x1="396.58" y1="278.40" x2="398.78" y2="278.40" stroke="#111" stroke-width="1.1" />
<text transform="translate(399.28,360.60) rotate(-90)" font-size="8.6" text-anchor="end" textLength="36.24" lengthAdjust="spacingAndGlyphs" fill="#484848">Stomach</text>
<line x1="404.86" y1="353.40" x2="404.86" y2="356.50" stroke="#111" stroke-width="1.0" />
<rect x="405.31" y="293.80" width="1.70" height="59.60" fill="#263d6b" stroke="#1a2c50" stroke-width="0.3"/>
<line x1="406.16" y1="293.80" x2="406.16" y2="282.40" stroke="#111" stroke-width="1.1" />
<line x1="405.06" y1="282.40" x2="407.26" y2="282.40" stroke="#111" stroke-width="1.1" />
<text transform="translate(407.76,360.60) rotate(-90)" font-size="8.6" text-anchor="end" textLength="57.17" lengthAdjust="spacingAndGlyphs" fill="#484848">Smallintestine</text>
<line x1="413.34" y1="353.40" x2="413.34" y2="356.50" stroke="#111" stroke-width="1.0" />
<rect x="413.79" y="321.90" width="1.70" height="31.50" fill="#263d6b" stroke="#1a2c50" stroke-width="0.3"/>
<line x1="414.64" y1="321.90" x2="414.64" y2="319.40" stroke="#111" stroke-width="1.1" />
<line x1="413.54" y1="319.40" x2="415.74" y2="319.40" stroke="#111" stroke-width="1.1" />
<text transform="translate(416.24,360.60) rotate(-90)" font-size="8.6" text-anchor="end" textLength="57.69" lengthAdjust="spacingAndGlyphs" fill="#484848">Largeintestine</text>
<line x1="421.82" y1="353.40" x2="421.82" y2="356.50" stroke="#111" stroke-width="1.0" />
<rect x="422.27" y="344.90" width="1.70" height="8.50" fill="#263d6b" stroke="#1a2c50" stroke-width="0.3"/>
<line x1="423.12" y1="344.90" x2="423.12" y2="341.40" stroke="#111" stroke-width="1.1" />
<line x1="422.02" y1="341.40" x2="424.22" y2="341.40" stroke="#111" stroke-width="1.1" />
<text transform="translate(424.72,360.60) rotate(-90)" font-size="8.6" text-anchor="end" textLength="40.83" lengthAdjust="spacingAndGlyphs" fill="#484848">Epidermis</text>
<line x1="430.30" y1="353.40" x2="430.30" y2="356.50" stroke="#111" stroke-width="1.0" />
<rect x="430.75" y="322.90" width="1.70" height="30.50" fill="#263d6b" stroke="#1a2c50" stroke-width="0.3"/>
<line x1="431.60" y1="322.90" x2="431.60" y2="320.90" stroke="#111" stroke-width="1.1" />
<line x1="430.50" y1="320.90" x2="432.70" y2="320.90" stroke="#111" stroke-width="1.1" />
<text transform="translate(433.20,360.60) rotate(-90)" font-size="8.6" text-anchor="end" textLength="22.96" lengthAdjust="spacingAndGlyphs" fill="#484848">Digits</text>
<line x1="438.78" y1="353.40" x2="438.78" y2="356.50" stroke="#111" stroke-width="1.0" />
<rect x="439.23" y="311.70" width="1.70" height="41.70" fill="#263d6b" stroke="#1a2c50" stroke-width="0.3"/>
<line x1="440.08" y1="311.70" x2="440.08" y2="310.00" stroke="#111" stroke-width="1.1" />
<line x1="438.98" y1="310.00" x2="441.18" y2="310.00" stroke="#111" stroke-width="1.1" />
<text transform="translate(441.68,360.60) rotate(-90)" font-size="8.6" text-anchor="end" textLength="63.81" lengthAdjust="spacingAndGlyphs" fill="#484848">Snoutepidermis</text>
<line x1="447.26" y1="353.40" x2="447.26" y2="356.50" stroke="#111" stroke-width="1.0" />
<rect x="447.71" y="326.90" width="1.70" height="26.50" fill="#263d6b" stroke="#1a2c50" stroke-width="0.3"/>
<line x1="448.56" y1="326.90" x2="448.56" y2="325.40" stroke="#111" stroke-width="1.1" />
<line x1="447.46" y1="325.40" x2="449.66" y2="325.40" stroke="#111" stroke-width="1.1" />
<text transform="translate(450.16,360.60) rotate(-90)" font-size="8.6" text-anchor="end" textLength="69.94" lengthAdjust="spacingAndGlyphs" fill="#484848">Tongueepidermis</text>
<line x1="455.74" y1="353.40" x2="455.74" y2="356.50" stroke="#111" stroke-width="1.0" />
<rect x="456.19" y="351.40" width="1.70" height="2.00" fill="#263d6b" stroke="#1a2c50" stroke-width="0.3"/>
<line x1="457.04" y1="351.40" x2="457.04" y2="350.50" stroke="#111" stroke-width="1.1" />
<line x1="455.94" y1="350.50" x2="458.14" y2="350.50" stroke="#111" stroke-width="1.1" />
<text transform="translate(458.64,360.60) rotate(-90)" font-size="8.6" text-anchor="end" textLength="55.12" lengthAdjust="spacingAndGlyphs" fill="#484848">Umbilicalcord</text>
<line x1="464.22" y1="353.40" x2="464.22" y2="356.50" stroke="#111" stroke-width="1.0" />
<text transform="translate(467.12,360.60) rotate(-90)" font-size="8.6" text-anchor="end" textLength="35.74" lengthAdjust="spacingAndGlyphs" fill="#484848">Placenta</text>
<line x1="472.70" y1="353.40" x2="472.70" y2="356.50" stroke="#111" stroke-width="1.0" />
<rect x="473.15" y="352.80" width="1.70" height="0.60" fill="#263d6b" stroke="#1a2c50" stroke-width="0.3"/>
<line x1="474.00" y1="352.80" x2="474.00" y2="352.20" stroke="#111" stroke-width="1.1" />
<line x1="472.90" y1="352.20" x2="475.10" y2="352.20" stroke="#111" stroke-width="1.1" />
<text transform="translate(475.60,360.60) rotate(-90)" font-size="8.6" text-anchor="end" textLength="24.49" lengthAdjust="spacingAndGlyphs" fill="#484848">Ovary</text>
<line x1="481.18" y1="353.40" x2="481.18" y2="356.50" stroke="#111" stroke-width="1.0" />
<text transform="translate(484.08,360.60) rotate(-90)" font-size="8.6" text-anchor="end" textLength="23.48" lengthAdjust="spacingAndGlyphs" fill="#484848">Testis</text>
<line x1="489.66" y1="353.40" x2="489.66" y2="356.50" stroke="#111" stroke-width="1.0" />
<rect x="490.11" y="303.40" width="1.70" height="50.00" fill="#263d6b" stroke="#1a2c50" stroke-width="0.3"/>
<line x1="490.96" y1="303.40" x2="490.96" y2="299.40" stroke="#111" stroke-width="1.1" />
<line x1="489.86" y1="299.40" x2="492.06" y2="299.40" stroke="#111" stroke-width="1.1" />
<rect x="486.96" y="266.00" width="2.00" height="87.40" fill="#930a35" stroke="#7a0a2c" stroke-width="0.4"/>
<rect x="486.96" y="244.38" width="2.00" height="11.52" fill="#930a35" stroke="#7a0a2c" stroke-width="0.4"/>
<line x1="487.96" y1="244.38" x2="487.96" y2="244.02" stroke="#151515" stroke-width="1.2" />
<line x1="486.96" y1="244.02" x2="488.96" y2="244.02" stroke="#151515" stroke-width="1.2" />
<text transform="translate(492.56,360.60) rotate(-90)" font-size="8.6" text-anchor="end" textLength="84.01" lengthAdjust="spacingAndGlyphs" fill="#484848">Macrophage_7hrLPS</text>
<line x1="89.80" y1="447.50" x2="117.30" y2="447.50" stroke="#222" stroke-width="1.2" />
<text x="103.70" y="458.70" font-size="8.7" text-anchor="middle" textLength="33.58" lengthAdjust="spacingAndGlyphs" fill="#484848">Immune</text>
<line x1="124.00" y1="447.50" x2="245.00" y2="447.50" stroke="#222" stroke-width="1.2" />
<text x="184.40" y="458.70" font-size="8.7" text-anchor="middle" textLength="44.43" lengthAdjust="spacingAndGlyphs" fill="#484848">Neurologic</text>
<line x1="252.30" y1="447.50" x2="286.10" y2="447.50" stroke="#222" stroke-width="1.2" />
<text x="268.90" y="458.70" font-size="8.7" text-anchor="middle" textLength="32.03" lengthAdjust="spacingAndGlyphs" fill="#484848">Muscle/</text>
<line x1="295.00" y1="447.50" x2="353.00" y2="447.50" stroke="#222" stroke-width="1.2" />
<text x="324.10" y="458.70" font-size="8.7" text-anchor="middle" textLength="38.76" lengthAdjust="spacingAndGlyphs" fill="#484848">Fat/gland</text>
<line x1="376.30" y1="447.50" x2="390.80" y2="447.50" stroke="#222" stroke-width="1.2" />
<text x="383.40" y="458.70" font-size="8.7" text-anchor="middle" textLength="21.70" lengthAdjust="spacingAndGlyphs" fill="#484848">Resp</text>
<line x1="394.30" y1="447.50" x2="415.00" y2="447.50" stroke="#222" stroke-width="1.2" />
<text x="404.90" y="458.70" font-size="8.7" text-anchor="middle" textLength="9.81" lengthAdjust="spacingAndGlyphs" fill="#484848">GI</text>
<line x1="421.80" y1="447.50" x2="447.00" y2="447.50" stroke="#222" stroke-width="1.2" />
<text x="434.00" y="458.70" font-size="8.7" text-anchor="middle" textLength="18.08" lengthAdjust="spacingAndGlyphs" fill="#484848">Skin</text>
<text x="268.90" y="469.80" font-size="8.7" text-anchor="middle" textLength="20.68" lengthAdjust="spacingAndGlyphs" fill="#484848">bone</text>
<rect x="91" y="236.6" width="9.2" height="4.9" fill="#a8002e" stroke="#85112f" stroke-width="0.5"/>
<rect x="91" y="248.0" width="9.2" height="4.9" fill="#2c4a80" stroke="#1f365f" stroke-width="0.5"/>
<text x="103.80" y="241.50" font-size="8.6" font-style="italic" textLength="14.20" lengthAdjust="spacingAndGlyphs">Il1b</text>
<text x="103.80" y="252.90" font-size="8.6" font-style="italic" textLength="14.00" lengthAdjust="spacingAndGlyphs">Il18</text>
<line x1="46.30" y1="487.90" x2="46.30" y2="640.60" stroke="#111" stroke-width="1.4" />
<line x1="45.60" y1="639.90" x2="259.70" y2="639.90" stroke="#111" stroke-width="1.4" />
<line x1="42.50" y1="626.30" x2="46.30" y2="626.30" stroke="#111" stroke-width="1.2" />
<text x="39.20" y="629.46" font-size="9.6" text-anchor="end" textLength="4.60" lengthAdjust="spacingAndGlyphs">0</text>
<line x1="42.50" y1="581.20" x2="46.30" y2="581.20" stroke="#111" stroke-width="1.2" />
<text x="39.20" y="584.36" font-size="9.6" text-anchor="end" textLength="4.60" lengthAdjust="spacingAndGlyphs">5</text>
<line x1="42.50" y1="536.10" x2="46.30" y2="536.10" stroke="#111" stroke-width="1.2" />
<text x="39.20" y="539.26" font-size="9.6" text-anchor="end" textLength="9.20" lengthAdjust="spacingAndGlyphs">10</text>
<line x1="42.50" y1="491.00" x2="46.30" y2="491.00" stroke="#111" stroke-width="1.2" />
<text x="39.20" y="494.16" font-size="9.6" text-anchor="end" textLength="9.20" lengthAdjust="spacingAndGlyphs">15</text>
<text transform="translate(25.00,563.80) rotate(-90)" font-size="11.0" stroke="#2a2a2a" stroke-width="0.3" text-anchor="middle" textLength="25.50" lengthAdjust="spacingAndGlyphs" fill="#2a2a2a">Z-score</text>
<line x1="59.60" y1="639.90" x2="59.60" y2="643.40" stroke="#111" stroke-width="1.2" />
<rect x="50.10" y="559.10" width="7.30" height="67.20" fill="#a8002e" stroke="#85112f" stroke-width="0.6"/>
<line x1="53.75" y1="559.10" x2="53.75" y2="557.30" stroke="#151515" stroke-width="1.2" />
<line x1="52.00" y1="557.30" x2="55.50" y2="557.30" stroke="#151515" stroke-width="1.2" />
<rect x="62.35" y="565.51" width="6.60" height="60.79" fill="#2c4a80" stroke="#1f365f" stroke-width="0.6"/>
<line x1="90.58" y1="639.90" x2="90.58" y2="643.40" stroke="#111" stroke-width="1.2" />
<rect x="81.08" y="623.59" width="7.30" height="2.71" fill="#a8002e" stroke="#85112f" stroke-width="0.6"/>
<line x1="84.73" y1="623.59" x2="84.73" y2="619.53" stroke="#151515" stroke-width="1.2" />
<line x1="82.98" y1="619.53" x2="86.48" y2="619.53" stroke="#151515" stroke-width="1.2" />
<rect x="93.33" y="571.82" width="6.60" height="54.48" fill="#2c4a80" stroke="#1f365f" stroke-width="0.6"/>
<line x1="121.56" y1="639.90" x2="121.56" y2="643.40" stroke="#111" stroke-width="1.2" />
<rect x="112.06" y="498.22" width="7.30" height="128.08" fill="#a8002e" stroke="#85112f" stroke-width="0.6"/>
<line x1="115.71" y1="498.22" x2="115.71" y2="493.71" stroke="#151515" stroke-width="1.2" />
<line x1="113.96" y1="493.71" x2="117.46" y2="493.71" stroke="#151515" stroke-width="1.2" />
<rect x="124.31" y="612.14" width="6.60" height="14.16" fill="#2c4a80" stroke="#1f365f" stroke-width="0.6"/>
<line x1="152.54" y1="639.90" x2="152.54" y2="643.40" stroke="#111" stroke-width="1.2" />
<rect x="143.04" y="547.83" width="7.30" height="78.47" fill="#a8002e" stroke="#85112f" stroke-width="0.6"/>
<line x1="146.69" y1="547.83" x2="146.69" y2="544.67" stroke="#151515" stroke-width="1.2" />
<line x1="144.94" y1="544.67" x2="148.44" y2="544.67" stroke="#151515" stroke-width="1.2" />
<line x1="183.52" y1="639.90" x2="183.52" y2="643.40" stroke="#111" stroke-width="1.2" />
<rect x="174.02" y="560.45" width="7.30" height="65.85" fill="#a8002e" stroke="#85112f" stroke-width="0.6"/>
<line x1="177.67" y1="560.45" x2="177.67" y2="555.04" stroke="#151515" stroke-width="1.2" />
<line x1="175.92" y1="555.04" x2="179.42" y2="555.04" stroke="#151515" stroke-width="1.2" />
<rect x="186.27" y="602.85" width="6.60" height="23.45" fill="#2c4a80" stroke="#1f365f" stroke-width="0.6"/>
<line x1="214.50" y1="639.90" x2="214.50" y2="643.40" stroke="#111" stroke-width="1.2" />
<rect x="205.00" y="587.24" width="7.30" height="39.06" fill="#a8002e" stroke="#85112f" stroke-width="0.6"/>
<line x1="208.65" y1="587.24" x2="208.65" y2="582.10" stroke="#151515" stroke-width="1.2" />
<line x1="206.90" y1="582.10" x2="210.40" y2="582.10" stroke="#151515" stroke-width="1.2" />
<rect x="217.25" y="565.87" width="6.60" height="60.43" fill="#2c4a80" stroke="#1f365f" stroke-width="0.6"/>
<line x1="245.48" y1="639.90" x2="245.48" y2="643.40" stroke="#111" stroke-width="1.2" />
<rect x="235.98" y="524.73" width="7.30" height="101.57" fill="#a8002e" stroke="#85112f" stroke-width="0.6"/>
<line x1="239.63" y1="524.73" x2="239.63" y2="520.77" stroke="#151515" stroke-width="1.2" />
<line x1="237.88" y1="520.77" x2="241.38" y2="520.77" stroke="#151515" stroke-width="1.2" />
<rect x="248.23" y="532.49" width="6.60" height="93.81" fill="#2c4a80" stroke="#1f365f" stroke-width="0.6"/>
<line x1="46.00" y1="626.30" x2="259.70" y2="626.30" stroke="#111" stroke-width="1.2" stroke-dasharray="2.2 2.65"/>
<line x1="46.00" y1="581.20" x2="250.50" y2="581.20" stroke="#111" stroke-width="1.2" stroke-dasharray="2.2 2.65"/>
<text transform="translate(62.60,646.60) rotate(-90)" font-size="8.7" text-anchor="end" textLength="48.83" lengthAdjust="spacingAndGlyphs" fill="#484848">Cd34+ cells</text>
<text transform="translate(93.58,646.60) rotate(-90)" font-size="8.7" text-anchor="end" textLength="60.96" lengthAdjust="spacingAndGlyphs" fill="#484848">Promyelocytes</text>
<text transform="translate(124.56,646.60) rotate(-90)" font-size="8.7" text-anchor="end" textLength="48.83" lengthAdjust="spacingAndGlyphs" fill="#484848">Cd31+ cells</text>
<text transform="translate(155.54,646.60) rotate(-90)" font-size="8.7" text-anchor="end" textLength="47.02" lengthAdjust="spacingAndGlyphs" fill="#484848">Neutrophils</text>
<text transform="translate(186.52,646.60) rotate(-90)" font-size="8.7" text-anchor="end" textLength="44.95" lengthAdjust="spacingAndGlyphs" fill="#484848">Monocytes</text>
<text transform="translate(217.50,646.60) rotate(-90)" font-size="8.7" text-anchor="end" textLength="75.18" lengthAdjust="spacingAndGlyphs" fill="#484848">Cd14+ monocytes</text>
<text transform="translate(242.60,646.60) rotate(-90)" font-size="8.7" text-anchor="end" textLength="33.58" lengthAdjust="spacingAndGlyphs" fill="#484848">Alveolar</text>
<text transform="translate(253.60,646.60) rotate(-90)" font-size="8.7" text-anchor="end" textLength="56.32" lengthAdjust="spacingAndGlyphs" fill="#484848">macrophages</text>
<rect x="49.3" y="494.2" width="9.9" height="5.3" fill="#a8002e" stroke="#85112f" stroke-width="0.5"/>
<rect x="49.3" y="507.2" width="9.9" height="4.8" fill="#2c4a80" stroke="#1f365f" stroke-width="0.5"/>
<text x="62.90" y="499.20" font-size="9.0" font-style="italic" textLength="16.00" lengthAdjust="spacingAndGlyphs">IL1B</text>
<text x="62.90" y="512.20" font-size="9.0" font-style="italic" textLength="16.00" lengthAdjust="spacingAndGlyphs">IL18</text>
<line x1="304.00" y1="493.00" x2="304.00" y2="640.60" stroke="#111" stroke-width="1.4" />
<line x1="303.30" y1="639.90" x2="510.40" y2="639.90" stroke="#111" stroke-width="1.4" />
<line x1="300.20" y1="623.00" x2="304.00" y2="623.00" stroke="#111" stroke-width="1.2" />
<text x="297.10" y="626.16" font-size="9.6" text-anchor="end" textLength="4.60" lengthAdjust="spacingAndGlyphs">0</text>
<line x1="300.20" y1="580.50" x2="304.00" y2="580.50" stroke="#111" stroke-width="1.2" />
<text x="297.10" y="583.66" font-size="9.6" text-anchor="end" textLength="4.60" lengthAdjust="spacingAndGlyphs">5</text>
<line x1="300.20" y1="538.00" x2="304.00" y2="538.00" stroke="#111" stroke-width="1.2" />
<text x="297.10" y="541.16" font-size="9.6" text-anchor="end" textLength="9.20" lengthAdjust="spacingAndGlyphs">10</text>
<line x1="300.20" y1="495.50" x2="304.00" y2="495.50" stroke="#111" stroke-width="1.2" />
<text x="297.10" y="498.66" font-size="9.6" text-anchor="end" textLength="9.20" lengthAdjust="spacingAndGlyphs">15</text>
<text transform="translate(281.10,568.00) rotate(-90)" font-size="11.0" stroke="#2a2a2a" stroke-width="0.3" text-anchor="middle" textLength="26.50" lengthAdjust="spacingAndGlyphs" fill="#2a2a2a">Z-score</text>
<line x1="310.40" y1="639.90" x2="310.40" y2="643.40" stroke="#111" stroke-width="1.2" />
<rect x="306.15" y="574.80" width="3.30" height="48.20" fill="#a8002e" stroke="#85112f" stroke-width="0.5"/>
<line x1="307.80" y1="574.80" x2="307.80" y2="573.27" stroke="#151515" stroke-width="1.2" />
<line x1="306.55" y1="573.27" x2="309.05" y2="573.27" stroke="#151515" stroke-width="1.2" />
<rect x="311.65" y="617.64" width="3.00" height="5.36" fill="#2c4a80" stroke="#1f365f" stroke-width="0.5"/>
<line x1="325.20" y1="639.90" x2="325.20" y2="643.40" stroke="#111" stroke-width="1.2" />
<rect x="320.95" y="534.60" width="3.30" height="88.40" fill="#a8002e" stroke="#85112f" stroke-width="0.5"/>
<rect x="326.45" y="623.00" width="3.00" height="9.95" fill="#2c4a80" stroke="#1f365f" stroke-width="0.5"/>
<line x1="340.00" y1="639.90" x2="340.00" y2="643.40" stroke="#111" stroke-width="1.2" />
<rect x="335.75" y="561.21" width="3.30" height="61.79" fill="#a8002e" stroke="#85112f" stroke-width="0.5"/>
<line x1="337.40" y1="561.21" x2="337.40" y2="556.70" stroke="#151515" stroke-width="1.2" />
<line x1="336.15" y1="556.70" x2="338.65" y2="556.70" stroke="#151515" stroke-width="1.2" />
<rect x="341.25" y="535.45" width="3.00" height="87.55" fill="#2c4a80" stroke="#1f365f" stroke-width="0.5"/>
<line x1="354.80" y1="639.90" x2="354.80" y2="643.40" stroke="#111" stroke-width="1.2" />
<rect x="350.55" y="607.96" width="3.30" height="15.04" fill="#a8002e" stroke="#85112f" stroke-width="0.5"/>
<line x1="352.20" y1="607.96" x2="352.20" y2="602.60" stroke="#151515" stroke-width="1.2" />
<line x1="350.95" y1="602.60" x2="353.45" y2="602.60" stroke="#151515" stroke-width="1.2" />
<rect x="356.05" y="527.46" width="3.00" height="95.54" fill="#2c4a80" stroke="#1f365f" stroke-width="0.5"/>
<line x1="369.60" y1="639.90" x2="369.60" y2="643.40" stroke="#111" stroke-width="1.2" />
<rect x="365.35" y="600.56" width="3.30" height="22.44" fill="#a8002e" stroke="#85112f" stroke-width="0.5"/>
<rect x="370.85" y="557.12" width="3.00" height="65.88" fill="#2c4a80" stroke="#1f365f" stroke-width="0.5"/>
<line x1="384.40" y1="639.90" x2="384.40" y2="643.40" stroke="#111" stroke-width="1.2" />
<rect x="380.15" y="613.65" width="3.30" height="9.35" fill="#a8002e" stroke="#85112f" stroke-width="0.5"/>
<line x1="381.80" y1="613.65" x2="381.80" y2="611.95" stroke="#151515" stroke-width="1.2" />
<line x1="380.55" y1="611.95" x2="383.05" y2="611.95" stroke="#151515" stroke-width="1.2" />
<rect x="385.65" y="534.00" width="3.00" height="89.00" fill="#2c4a80" stroke="#1f365f" stroke-width="0.5"/>
<line x1="399.20" y1="639.90" x2="399.20" y2="643.40" stroke="#111" stroke-width="1.2" />
<rect x="394.95" y="620.71" width="3.30" height="2.29" fill="#a8002e" stroke="#85112f" stroke-width="0.5"/>
<rect x="400.45" y="534.00" width="3.00" height="89.00" fill="#2c4a80" stroke="#1f365f" stroke-width="0.5"/>
<line x1="414.00" y1="639.90" x2="414.00" y2="643.40" stroke="#111" stroke-width="1.2" />
<rect x="409.75" y="617.64" width="3.30" height="5.36" fill="#a8002e" stroke="#85112f" stroke-width="0.5"/>
<rect x="415.25" y="557.55" width="3.00" height="65.45" fill="#2c4a80" stroke="#1f365f" stroke-width="0.5"/>
<line x1="428.80" y1="639.90" x2="428.80" y2="643.40" stroke="#111" stroke-width="1.2" />
<rect x="424.55" y="623.00" width="3.30" height="5.10" fill="#a8002e" stroke="#85112f" stroke-width="0.5"/>
<line x1="426.20" y1="628.10" x2="426.20" y2="631.50" stroke="#151515" stroke-width="1.2" />
<line x1="424.95" y1="631.50" x2="427.45" y2="631.50" stroke="#151515" stroke-width="1.2" />
<rect x="430.05" y="552.45" width="3.00" height="70.55" fill="#2c4a80" stroke="#1f365f" stroke-width="0.5"/>
<line x1="443.60" y1="639.90" x2="443.60" y2="643.40" stroke="#111" stroke-width="1.2" />
<rect x="439.35" y="623.00" width="3.30" height="1.70" fill="#a8002e" stroke="#85112f" stroke-width="0.5"/>
<line x1="441.00" y1="624.70" x2="441.00" y2="626.40" stroke="#151515" stroke-width="1.2" />
<line x1="439.75" y1="626.40" x2="442.25" y2="626.40" stroke="#151515" stroke-width="1.2" />
<rect x="444.85" y="558.14" width="3.00" height="64.86" fill="#2c4a80" stroke="#1f365f" stroke-width="0.5"/>
<line x1="458.40" y1="639.90" x2="458.40" y2="643.40" stroke="#111" stroke-width="1.2" />
<rect x="454.15" y="619.94" width="3.30" height="3.06" fill="#a8002e" stroke="#85112f" stroke-width="0.5"/>
<rect x="459.65" y="556.36" width="3.00" height="66.64" fill="#2c4a80" stroke="#1f365f" stroke-width="0.5"/>
<line x1="473.20" y1="639.90" x2="473.20" y2="643.40" stroke="#111" stroke-width="1.2" />
<rect x="468.95" y="623.00" width="3.30" height="8.41" fill="#a8002e" stroke="#85112f" stroke-width="0.5"/>
<line x1="470.60" y1="631.41" x2="470.60" y2="635.75" stroke="#151515" stroke-width="1.2" />
<line x1="469.35" y1="635.75" x2="471.85" y2="635.75" stroke="#151515" stroke-width="1.2" />
<rect x="474.45" y="532.48" width="3.00" height="90.52" fill="#2c4a80" stroke="#1f365f" stroke-width="0.5"/>
<line x1="488.00" y1="639.90" x2="488.00" y2="643.40" stroke="#111" stroke-width="1.2" />
<rect x="483.75" y="623.00" width="3.30" height="0.42" fill="#a8002e" stroke="#85112f" stroke-width="0.5"/>
<line x1="485.40" y1="623.42" x2="485.40" y2="625.55" stroke="#151515" stroke-width="1.2" />
<line x1="484.15" y1="625.55" x2="486.65" y2="625.55" stroke="#151515" stroke-width="1.2" />
<rect x="489.25" y="522.70" width="3.00" height="100.30" fill="#2c4a80" stroke="#1f365f" stroke-width="0.5"/>
<line x1="502.80" y1="639.90" x2="502.80" y2="643.40" stroke="#111" stroke-width="1.2" />
<rect x="498.55" y="623.00" width="3.30" height="0.85" fill="#a8002e" stroke="#85112f" stroke-width="0.5"/>
<rect x="504.05" y="547.35" width="3.00" height="75.65" fill="#2c4a80" stroke="#1f365f" stroke-width="0.5"/>
<line x1="303.00" y1="623.00" x2="510.40" y2="623.00" stroke="#111" stroke-width="1.2" stroke-dasharray="2.1 2.9"/>
<line x1="303.00" y1="580.50" x2="510.40" y2="580.50" stroke="#111" stroke-width="1.2" stroke-dasharray="2.1 2.9"/>
<text transform="translate(328.20,646.60) rotate(-90)" font-size="8.7" text-anchor="end" textLength="55.43" lengthAdjust="spacingAndGlyphs" fill="#484848">Breast stroma</text>
<text transform="translate(343.00,646.60) rotate(-90)" font-size="8.7" text-anchor="end" textLength="87.32" lengthAdjust="spacingAndGlyphs" fill="#484848">Breast epithelial cells</text>
<text transform="translate(357.80,646.60) rotate(-90)" font-size="8.7" text-anchor="end" textLength="56.94" lengthAdjust="spacingAndGlyphs" fill="#484848">Amniotic fluid</text>
<text transform="translate(372.60,646.60) rotate(-90)" font-size="8.7" text-anchor="end" textLength="78.54" lengthAdjust="spacingAndGlyphs" fill="#484848">Gingival epithelium</text>
<text transform="translate(387.40,646.60) rotate(-90)" font-size="8.7" text-anchor="end" textLength="50.69" lengthAdjust="spacingAndGlyphs" fill="#484848">Oral mucosa</text>
<text transform="translate(402.20,646.60) rotate(-90)" font-size="8.7" text-anchor="end" textLength="46.51" lengthAdjust="spacingAndGlyphs" fill="#484848">Esophagus</text>
<text transform="translate(417.00,646.60) rotate(-90)" font-size="8.7" text-anchor="end" textLength="23.68" lengthAdjust="spacingAndGlyphs" fill="#484848">Colon</text>
<text transform="translate(431.80,646.60) rotate(-90)" font-size="8.7" text-anchor="end" textLength="66.13" lengthAdjust="spacingAndGlyphs" fill="#484848">Colonic mucosa</text>
<text transform="translate(446.60,646.60) rotate(-90)" font-size="8.7" text-anchor="end" textLength="93.52" lengthAdjust="spacingAndGlyphs" fill="#484848">Sigmoid colon mucosa</text>
<text transform="translate(461.40,646.60) rotate(-90)" font-size="8.7" text-anchor="end" textLength="65.41" lengthAdjust="spacingAndGlyphs" fill="#484848">Rectum mucosa</text>
<text transform="translate(476.20,646.60) rotate(-90)" font-size="8.7" text-anchor="end" textLength="16.28" lengthAdjust="spacingAndGlyphs" fill="#484848">Skin</text>
<text transform="translate(491.00,646.60) rotate(-90)" font-size="8.7" text-anchor="end" textLength="21.63" lengthAdjust="spacingAndGlyphs" fill="#484848">Penis</text>
<text transform="translate(505.80,646.60) rotate(-90)" font-size="8.7" text-anchor="end" textLength="21.88" lengthAdjust="spacingAndGlyphs" fill="#484848">Vulva</text>
<text transform="translate(301.10,646.60) rotate(-90)" font-size="8.7" text-anchor="end" textLength="70.27" lengthAdjust="spacingAndGlyphs" fill="#484848">Omental adipose</text>
<text transform="translate(312.10,646.60) rotate(-90)" font-size="8.7" text-anchor="end" textLength="24.28" lengthAdjust="spacingAndGlyphs" fill="#484848">tissue</text>
<rect x="307.7" y="494.0" width="9.6" height="5.3" fill="#a8002e" stroke="#85112f" stroke-width="0.5"/>
<rect x="307.7" y="507.4" width="9.6" height="4.9" fill="#2c4a80" stroke="#1f365f" stroke-width="0.5"/>
<text x="321.00" y="499.60" font-size="9.0" font-style="italic" textLength="16.00" lengthAdjust="spacingAndGlyphs">IL1B</text>
<text x="321.00" y="512.60" font-size="9.0" font-style="italic" textLength="16.00" lengthAdjust="spacingAndGlyphs">IL18</text>
<line x1="309.00" y1="742.30" x2="328.10" y2="742.30" stroke="#222" stroke-width="1.2" />
<text x="318.50" y="753.80" font-size="8.7" text-anchor="middle" textLength="10.33" lengthAdjust="spacingAndGlyphs" fill="#484848">fat</text>
<line x1="372.70" y1="742.30" x2="462.20" y2="742.30" stroke="#222" stroke-width="1.2" />
<text x="417.50" y="753.80" font-size="8.7" text-anchor="middle" textLength="9.81" lengthAdjust="spacingAndGlyphs" fill="#484848">GI</text>
<line x1="473.20" y1="742.30" x2="505.20" y2="742.30" stroke="#222" stroke-width="1.2" />
<text x="489.20" y="753.80" font-size="8.7" text-anchor="middle" textLength="16.53" lengthAdjust="spacingAndGlyphs" fill="#484848">skin</text>
<rect x="0" y="0" width="520" height="1.4" fill="#111"/>
<rect x="0" y="0" width="1.5" height="764" fill="#111"/>
<rect x="518.2" y="0" width="1.8" height="764" fill="#111"/>
<rect x="0" y="762.2" width="520" height="1.8" fill="#111"/>
</svg>
</body></html>
